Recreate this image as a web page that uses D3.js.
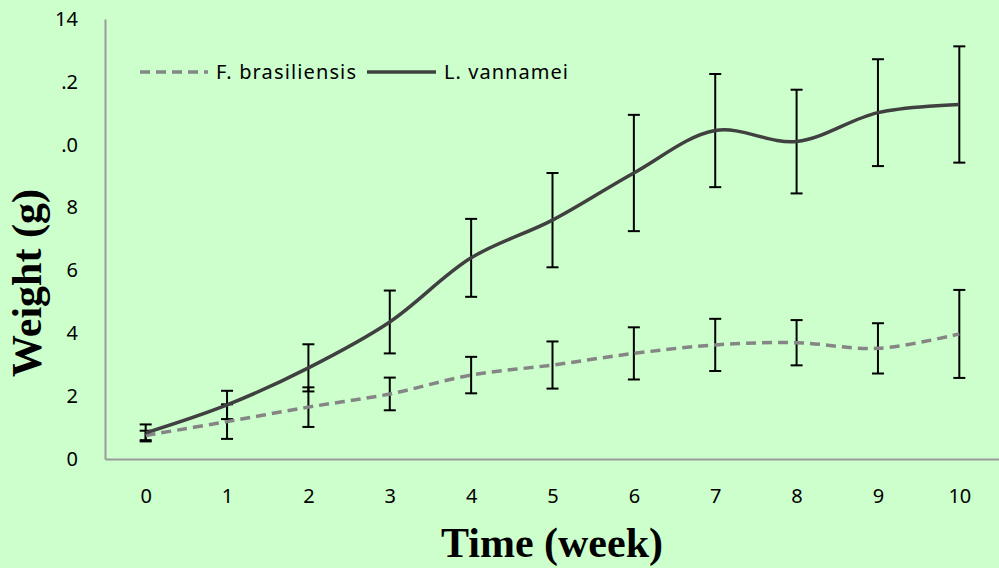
<!DOCTYPE html>
<html>
<head>
<meta charset="utf-8">
<script src="https://cdn.jsdelivr.net/npm/d3@7"></script>
<style>
  body { margin: 0; background: #ccffcc; }
  svg { display: block; }
</style>
</head>
<body>
<svg id="chart" width="999" height="568"></svg>
<script>
// weeks and weights
const weeks = [0, 1, 2, 3, 4, 5, 6, 7, 8, 9, 10];
const brasMean = [0.75, 1.19, 1.65, 2.07, 2.67, 2.99, 3.36, 3.63, 3.70, 3.52, 3.98];
const brasErr  = [0.15, 0.55, 0.63, 0.52, 0.58, 0.75, 0.83, 0.83, 0.72, 0.80, 1.40];
const vannMean = [0.83, 1.72, 2.90, 4.36, 6.40, 7.60, 9.10, 10.45, 10.10, 11.02, 11.28];
const vannErr  = [0.27, 0.45, 0.75, 1.00, 1.24, 1.50, 1.85, 1.80, 1.65, 1.70, 1.85];
const yTicks = [0, 2, 4, 6, 8, 10, 12, 14];
const yTickLabels = ['0', '2', '4', '6', '8', '.0', '.2', '14'];
const seriesNames = ['F. brasiliensis', 'L. vannamei'];

const svg = d3.select('#chart');
const plotLeft = 105, plotRight = 1000, plotTop = 19, plotBottom = 459;

const x = d3.scaleLinear().domain([-0.5, 10.5]).range([plotLeft, plotRight]);
const y = d3.scaleLinear().domain([0, 14]).range([plotBottom, plotTop]);

svg.append('rect').attr('width', 999).attr('height', 568).attr('fill', '#ccffcc');

// axes
const yAxis = svg.append('g')
    .attr('transform', 'translate(' + plotLeft + ',0)')
    .call(d3.axisLeft(y).tickValues(yTicks).tickSize(0).tickPadding(27)
        .tickFormat((d, i) => yTickLabels[i]));
yAxis.select('.domain').attr('stroke', '#9a9a9a').attr('stroke-width', 2);
yAxis.selectAll('text').attr('font-family', 'Noto Sans').attr('font-size', 20).attr('fill', '#000');

const xAxis = svg.append('g')
    .attr('transform', 'translate(0,' + plotBottom + ')')
    .call(d3.axisBottom(x).tickValues(weeks).tickSize(0).tickPadding(30).tickFormat(d3.format('d')));
xAxis.select('.domain').attr('stroke', '#9a9a9a').attr('stroke-width', 2);
xAxis.selectAll('text').attr('font-family', 'Noto Sans').attr('font-size', 20).attr('fill', '#000');

const line = d3.line().curve(d3.curveCatmullRom.alpha(0.5))
    .x((d, i) => x(weeks[i])).y(d => y(d));

function errorBars(mean, err) {
    const g = svg.append('g').attr('stroke', '#000').attr('stroke-width', 2);
    weeks.forEach((w, i) => {
        const cx = x(w), y1 = y(mean[i] + err[i]), y2 = y(mean[i] - err[i]);
        g.append('line').attr('x1', cx).attr('x2', cx).attr('y1', y1).attr('y2', y2);
        g.append('line').attr('x1', cx - 6).attr('x2', cx + 6).attr('y1', y1).attr('y2', y1);
        g.append('line').attr('x1', cx - 6).attr('x2', cx + 6).attr('y1', y2).attr('y2', y2);
    });
}

errorBars(brasMean, brasErr);
errorBars(vannMean, vannErr);

svg.append('path').datum(brasMean).attr('d', line)
    .attr('fill', 'none').attr('stroke', '#858585').attr('stroke-width', 3.5)
    .attr('stroke-dasharray', '10,6');
svg.append('path').datum(vannMean).attr('d', line)
    .attr('fill', 'none').attr('stroke', '#404040').attr('stroke-width', 3.5);

// legend
const legend = svg.append('g').attr('font-family', 'Noto Sans').attr('font-size', 20);
legend.append('line').attr('x1', 140).attr('x2', 208).attr('y1', 72).attr('y2', 72)
    .attr('stroke', '#858585').attr('stroke-width', 3.5).attr('stroke-dasharray', '10,6');
legend.append('text').attr('x', 216).attr('y', 79).attr('textLength', 140).text(seriesNames[0]);
legend.append('line').attr('x1', 367).attr('x2', 436).attr('y1', 72).attr('y2', 72)
    .attr('stroke', '#404040').attr('stroke-width', 3.5);
legend.append('text').attr('x', 444).attr('y', 79).attr('textLength', 124).text(seriesNames[1]);

// titles
svg.append('text')
    .attr('transform', 'translate(41,283) rotate(-90)')
    .attr('text-anchor', 'middle')
    .attr('font-family', 'Liberation Serif').attr('font-weight', 'bold').attr('font-size', 42)
    .text('Weight (g)');
svg.append('text')
    .attr('x', 552).attr('y', 557)
    .attr('text-anchor', 'middle')
    .attr('font-family', 'Liberation Serif').attr('font-weight', 'bold').attr('font-size', 42)
    .text('Time (week)');
</script>
</body>
</html>
